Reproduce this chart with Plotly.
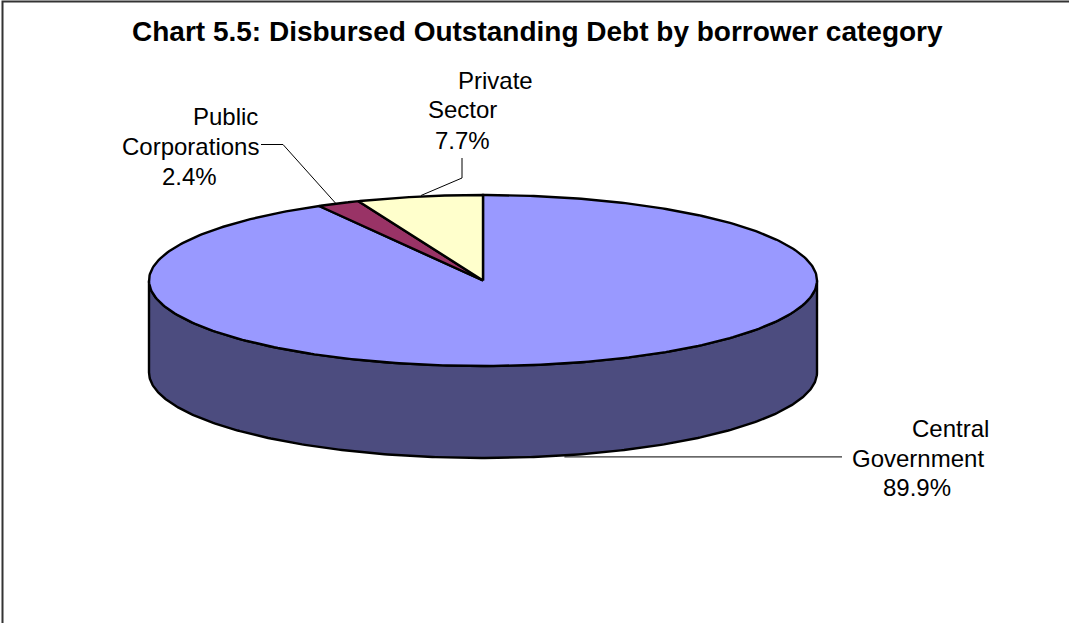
import numpy as np
import plotly.graph_objects as go

# Borrower categories, clockwise from 12 o'clock
categories = ["Central Government", "Public Corporations", "Private Sector"]
shares = [89.9, 2.4, 7.7]
top_colors = ["#9999FF", "#993366", "#FFFFCC"]
title_text = "Chart 5.5: Disbursed Outstanding Debt by borrower category"

# Pie geometry (pixel space, y grows downward)
W, H = 1069, 623
CX, CY = 483.0, 280.5
RX, RY = 334.0, 85.5
DEPTH = 92.0
SQUEEZE = 0.765  # oval footprint of the pie in depth
FONT = "Liberation Sans, Arial, sans-serif"


def param_angle(theta):
    """Map a true slice angle (clockwise from top) to the ellipse parameter."""
    return np.arctan2(SQUEEZE * np.sin(theta), np.cos(theta))


def rim(t, drop=0.0):
    return CX + RX * np.sin(t), CY - RY * np.cos(t) + drop


def darker(hex_color, f=0.5):
    h = hex_color.lstrip("#")
    r, g, b = (int(h[i:i + 2], 16) for i in (0, 2, 4))
    return "#%02X%02X%02X" % (int(r * f), int(g * f), int(b * f))


fig = go.Figure()

fractions = np.array(shares) / np.sum(shares)
bounds = np.concatenate([[0.0], np.cumsum(fractions)]) * 2 * np.pi

# unwrapped parameter ranges of each slice
t_ranges = []
for i in range(len(shares)):
    th = np.linspace(bounds[i], bounds[i + 1], 400)
    t = np.unwrap(param_angle(th))
    t_ranges.append(t)

# Visible side wall: front half of the rim (parameter between 90 and 270 deg)
for i, t in enumerate(t_ranges):
    lo = max(t.min(), np.pi / 2)
    hi = min(t.max(), 3 * np.pi / 2)
    if hi <= lo:
        continue
    ts = np.linspace(lo, hi, 300)
    xt, yt = rim(ts)
    xb, yb = rim(ts[::-1], DEPTH)
    fig.add_trace(go.Scatter(
        x=np.concatenate([xt, xb, xt[:1]]),
        y=np.concatenate([yt, yb, yt[:1]]),
        mode="lines", fill="toself", fillcolor=darker(top_colors[i]),
        line=dict(color="black", width=2.4), hoverinfo="skip", showlegend=False))

# Top face slices
for i, t in enumerate(t_ranges):
    xa, ya = rim(t)
    fig.add_trace(go.Scatter(
        x=np.concatenate([[CX], xa, [CX]]),
        y=np.concatenate([[CY], ya, [CY]]),
        mode="lines", fill="toself", fillcolor=top_colors[i],
        line=dict(color="black", width=2.4), hoverinfo="skip",
        showlegend=False, name=categories[i]))

# Leader lines from labels to the slice rims
mids = [param_angle((bounds[i] + bounds[i + 1]) / 2) for i in range(len(shares))]

# Central Government: horizontal leader to the bottom rim of the wall
mx, my = rim(mids[0], DEPTH)
fig.add_trace(go.Scatter(x=[842, mx], y=[my + 1.5, my + 1.5], mode="lines",
                         line=dict(color="black", width=1),
                         hoverinfo="skip", showlegend=False))
# Public Corporations
mx, my = rim(mids[1])
fig.add_trace(go.Scatter(x=[261, 283, mx - 3], y=[144.5, 144.5, my], mode="lines",
                         line=dict(color="black", width=1),
                         hoverinfo="skip", showlegend=False))
# Private Sector
mx, my = rim(mids[2])
fig.add_trace(go.Scatter(x=[462, 462, mx], y=[158, 178, my - 1], mode="lines",
                         line=dict(color="black", width=1),
                         hoverinfo="skip", showlegend=False))

# Data labels: first word of the category, rest of it, and the share
label_layout = [
    # (first line centre x, y), (second line centre x, y), (value centre x, y)
    [(950, 428), (918, 458), (917, 487)],
    [(225, 116), (190, 146), (189, 176)],
    [(495, 80), (462, 109), (462, 140)],
]
annotations = []
for i, name in enumerate(categories):
    first, rest = name.split(" ", 1)
    lines = [first, rest, f"{shares[i]:.1f}%"]
    for text, (lx, ly) in zip(lines, label_layout[i]):
        annotations.append(dict(
            x=lx, y=ly, xref="x", yref="y", text=text, showarrow=False,
            xanchor="center", yanchor="middle",
            font=dict(family=FONT, size=24, color="black")))

annotations.append(dict(
    x=537.5, y=31, xref="x", yref="y", text=f"<b>{title_text}</b>",
    showarrow=False, xanchor="center", yanchor="middle",
    font=dict(family=FONT, size=28, color="black")))

fig.update_layout(
    width=W, height=H,
    margin=dict(l=0, r=0, t=0, b=0),
    paper_bgcolor="white", plot_bgcolor="white",
    xaxis=dict(range=[0, W], visible=False, fixedrange=True),
    yaxis=dict(range=[H, 0], visible=False, fixedrange=True),
    annotations=annotations,
    shapes=[dict(type="rect", xref="x", yref="y", x0=2.5, y0=1.5, x1=W + 20, y1=H + 20,
                 line=dict(color="#333333", width=2), layer="below")],
)

fig.write_html("out.html")
